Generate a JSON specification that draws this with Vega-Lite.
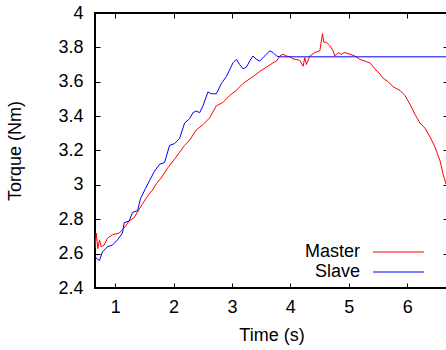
{
  "$schema": "https://vega.github.io/schema/vega-lite/v6.json",
  "width": 353,
  "height": 275,
  "autosize": {"type": "none"},
  "padding": {"left": 95, "top": 13, "right": 0, "bottom": 62},
  "background": "white",
  "config": {
    "view": {"stroke": "black", "strokeWidth": 2},
    "font": "Liberation Sans",
    "axis": {
      "labelFont": "Liberation Sans",
      "labelFontSize": 18,
      "labelColor": "black",
      "titleFont": "Liberation Sans",
      "titleFontSize": 18,
      "titleFontWeight": "normal",
      "titleColor": "black",
      "domain": false,
      "grid": false,
      "tickColor": "black",
      "tickWidth": 1,
      "tickSize": -5
    },
    "legend": {
      "labelFont": "Liberation Sans",
      "labelFontSize": 18,
      "labelColor": "black"
    }
  },
  "data": {
    "values": [
      {"t": 0.654, "v": 2.63, "s": "Master"},
      {"t": 0.674, "v": 2.72, "s": "Master"},
      {"t": 0.702, "v": 2.63, "s": "Master"},
      {"t": 0.731, "v": 2.68, "s": "Master"},
      {"t": 0.760, "v": 2.64, "s": "Master"},
      {"t": 0.811, "v": 2.65, "s": "Master"},
      {"t": 0.868, "v": 2.69, "s": "Master"},
      {"t": 0.954, "v": 2.71, "s": "Master"},
      {"t": 1.069, "v": 2.72, "s": "Master"},
      {"t": 1.154, "v": 2.75, "s": "Master"},
      {"t": 1.240, "v": 2.79, "s": "Master"},
      {"t": 1.326, "v": 2.81, "s": "Master"},
      {"t": 1.412, "v": 2.86, "s": "Master"},
      {"t": 1.525, "v": 2.92, "s": "Master"},
      {"t": 1.588, "v": 2.95, "s": "Master"},
      {"t": 1.640, "v": 2.97, "s": "Master"},
      {"t": 1.703, "v": 3.006, "s": "Master"},
      {"t": 1.786, "v": 3.04, "s": "Master"},
      {"t": 1.902, "v": 3.10, "s": "Master"},
      {"t": 2.017, "v": 3.15, "s": "Master"},
      {"t": 2.103, "v": 3.19, "s": "Master"},
      {"t": 2.189, "v": 3.23, "s": "Master"},
      {"t": 2.274, "v": 3.26, "s": "Master"},
      {"t": 2.389, "v": 3.32, "s": "Master"},
      {"t": 2.503, "v": 3.35, "s": "Master"},
      {"t": 2.617, "v": 3.39, "s": "Master"},
      {"t": 2.732, "v": 3.46, "s": "Master"},
      {"t": 2.846, "v": 3.48, "s": "Master"},
      {"t": 2.961, "v": 3.52, "s": "Master"},
      {"t": 3.075, "v": 3.55, "s": "Master"},
      {"t": 3.189, "v": 3.59, "s": "Master"},
      {"t": 3.274, "v": 3.61, "s": "Master"},
      {"t": 3.360, "v": 3.63, "s": "Master"},
      {"t": 3.475, "v": 3.66, "s": "Master"},
      {"t": 3.590, "v": 3.685, "s": "Master"},
      {"t": 3.703, "v": 3.71, "s": "Master"},
      {"t": 3.762, "v": 3.72, "s": "Master"},
      {"t": 3.818, "v": 3.75, "s": "Master"},
      {"t": 3.875, "v": 3.76, "s": "Master"},
      {"t": 3.933, "v": 3.75, "s": "Master"},
      {"t": 3.990, "v": 3.745, "s": "Master"},
      {"t": 4.046, "v": 3.733, "s": "Master"},
      {"t": 4.161, "v": 3.725, "s": "Master"},
      {"t": 4.218, "v": 3.69, "s": "Master"},
      {"t": 4.247, "v": 3.74, "s": "Master"},
      {"t": 4.276, "v": 3.70, "s": "Master"},
      {"t": 4.333, "v": 3.75, "s": "Master"},
      {"t": 4.419, "v": 3.77, "s": "Master"},
      {"t": 4.505, "v": 3.78, "s": "Master"},
      {"t": 4.551, "v": 3.88, "s": "Master"},
      {"t": 4.573, "v": 3.83, "s": "Master"},
      {"t": 4.619, "v": 3.83, "s": "Master"},
      {"t": 4.676, "v": 3.81, "s": "Master"},
      {"t": 4.732, "v": 3.78, "s": "Master"},
      {"t": 4.761, "v": 3.75, "s": "Master"},
      {"t": 4.818, "v": 3.77, "s": "Master"},
      {"t": 4.876, "v": 3.76, "s": "Master"},
      {"t": 4.933, "v": 3.77, "s": "Master"},
      {"t": 5.019, "v": 3.76, "s": "Master"},
      {"t": 5.105, "v": 3.75, "s": "Master"},
      {"t": 5.190, "v": 3.73, "s": "Master"},
      {"t": 5.276, "v": 3.72, "s": "Master"},
      {"t": 5.362, "v": 3.71, "s": "Master"},
      {"t": 5.448, "v": 3.675, "s": "Master"},
      {"t": 5.533, "v": 3.645, "s": "Master"},
      {"t": 5.590, "v": 3.62, "s": "Master"},
      {"t": 5.676, "v": 3.60, "s": "Master"},
      {"t": 5.762, "v": 3.57, "s": "Master"},
      {"t": 5.877, "v": 3.55, "s": "Master"},
      {"t": 5.962, "v": 3.52, "s": "Master"},
      {"t": 6.048, "v": 3.47, "s": "Master"},
      {"t": 6.134, "v": 3.41, "s": "Master"},
      {"t": 6.220, "v": 3.36, "s": "Master"},
      {"t": 6.305, "v": 3.33, "s": "Master"},
      {"t": 6.391, "v": 3.28, "s": "Master"},
      {"t": 6.477, "v": 3.22, "s": "Master"},
      {"t": 6.563, "v": 3.14, "s": "Master"},
      {"t": 6.619, "v": 3.06, "s": "Master"},
      {"t": 6.665, "v": 3.005, "s": "Master"},
      {"t": 0.654, "v": 2.58, "s": "Slave"},
      {"t": 0.731, "v": 2.56, "s": "Slave"},
      {"t": 0.782, "v": 2.61, "s": "Slave"},
      {"t": 0.868, "v": 2.64, "s": "Slave"},
      {"t": 0.954, "v": 2.65, "s": "Slave"},
      {"t": 1.039, "v": 2.68, "s": "Slave"},
      {"t": 1.125, "v": 2.72, "s": "Slave"},
      {"t": 1.154, "v": 2.78, "s": "Slave"},
      {"t": 1.240, "v": 2.79, "s": "Slave"},
      {"t": 1.297, "v": 2.84, "s": "Slave"},
      {"t": 1.383, "v": 2.85, "s": "Slave"},
      {"t": 1.434, "v": 2.92, "s": "Slave"},
      {"t": 1.520, "v": 2.98, "s": "Slave"},
      {"t": 1.588, "v": 3.025, "s": "Slave"},
      {"t": 1.674, "v": 3.08, "s": "Slave"},
      {"t": 1.760, "v": 3.12, "s": "Slave"},
      {"t": 1.846, "v": 3.13, "s": "Slave"},
      {"t": 1.931, "v": 3.23, "s": "Slave"},
      {"t": 2.017, "v": 3.24, "s": "Slave"},
      {"t": 2.103, "v": 3.27, "s": "Slave"},
      {"t": 2.189, "v": 3.36, "s": "Slave"},
      {"t": 2.274, "v": 3.385, "s": "Slave"},
      {"t": 2.331, "v": 3.42, "s": "Slave"},
      {"t": 2.389, "v": 3.43, "s": "Slave"},
      {"t": 2.446, "v": 3.42, "s": "Slave"},
      {"t": 2.503, "v": 3.46, "s": "Slave"},
      {"t": 2.588, "v": 3.54, "s": "Slave"},
      {"t": 2.647, "v": 3.53, "s": "Slave"},
      {"t": 2.732, "v": 3.53, "s": "Slave"},
      {"t": 2.818, "v": 3.59, "s": "Slave"},
      {"t": 2.904, "v": 3.63, "s": "Slave"},
      {"t": 3.017, "v": 3.71, "s": "Slave"},
      {"t": 3.075, "v": 3.73, "s": "Slave"},
      {"t": 3.132, "v": 3.70, "s": "Slave"},
      {"t": 3.189, "v": 3.675, "s": "Slave"},
      {"t": 3.247, "v": 3.685, "s": "Slave"},
      {"t": 3.303, "v": 3.72, "s": "Slave"},
      {"t": 3.360, "v": 3.75, "s": "Slave"},
      {"t": 3.419, "v": 3.73, "s": "Slave"},
      {"t": 3.475, "v": 3.72, "s": "Slave"},
      {"t": 3.532, "v": 3.74, "s": "Slave"},
      {"t": 3.590, "v": 3.76, "s": "Slave"},
      {"t": 3.647, "v": 3.78, "s": "Slave"},
      {"t": 3.703, "v": 3.77, "s": "Slave"},
      {"t": 3.762, "v": 3.75, "s": "Slave"},
      {"t": 3.818, "v": 3.745, "s": "Slave"},
      {"t": 6.7, "v": 3.745, "s": "Slave"}
    ]
  },
  "layer": [
    {
      "mark": {"type": "line", "strokeWidth": 1, "clip": true},
      "encoding": {
        "x": {
          "field": "t", "type": "quantitative",
          "scale": {"domain": [0.654, 6.7], "nice": false, "zero": false},
          "axis": {"orient": "bottom", "title": "Time (s)", "values": [1, 2, 3, 4, 5, 6], "format": "d", "labelPadding": 15, "titlePadding": 10}
        },
        "y": {
          "field": "v", "type": "quantitative",
          "scale": {"domain": [2.4, 4], "nice": false, "zero": false},
          "axis": {"orient": "left", "title": "Torque (Nm)", "values": [2.4, 2.6, 2.8, 3, 3.2, 3.4, 3.6, 3.8, 4], "format": ".1~f", "labelPadding": 17, "titleX": -80, "titleY": 137.5, "titleBaseline": "middle", "titleAngle": -90}
        },
        "color": {
          "field": "s", "type": "nominal",
          "scale": {"domain": ["Master", "Slave"], "range": ["#ff0000", "#0000ff"]},
          "legend": {
            "title": null,
            "orient": "none",
            "legendX": 293,
            "legendY": 228.5,
            "symbolType": "M-2.55,0H2.55",
            "symbolSize": 400,
            "symbolStrokeWidth": 1,
            "labelAlign": "right",
            "labelOffset": -49,
            "rowPadding": -1,
            "padding": 0
          }
        }
      }
    },
    {
      "mark": {"type": "line", "opacity": 0},
      "encoding": {
        "x": {
          "field": "t", "type": "quantitative",
          "axis": {"orient": "top", "title": null, "values": [1, 2, 3, 4, 5, 6], "labels": false}
        },
        "y": {
          "field": "v", "type": "quantitative",
          "axis": {"orient": "right", "title": null, "values": [2.4, 2.6, 2.8, 3, 3.2, 3.4, 3.6, 3.8, 4], "labels": false}
        },
        "detail": {"field": "s"}
      }
    }
  ],
  "resolve": {"axis": {"x": "independent", "y": "independent"}}
}
